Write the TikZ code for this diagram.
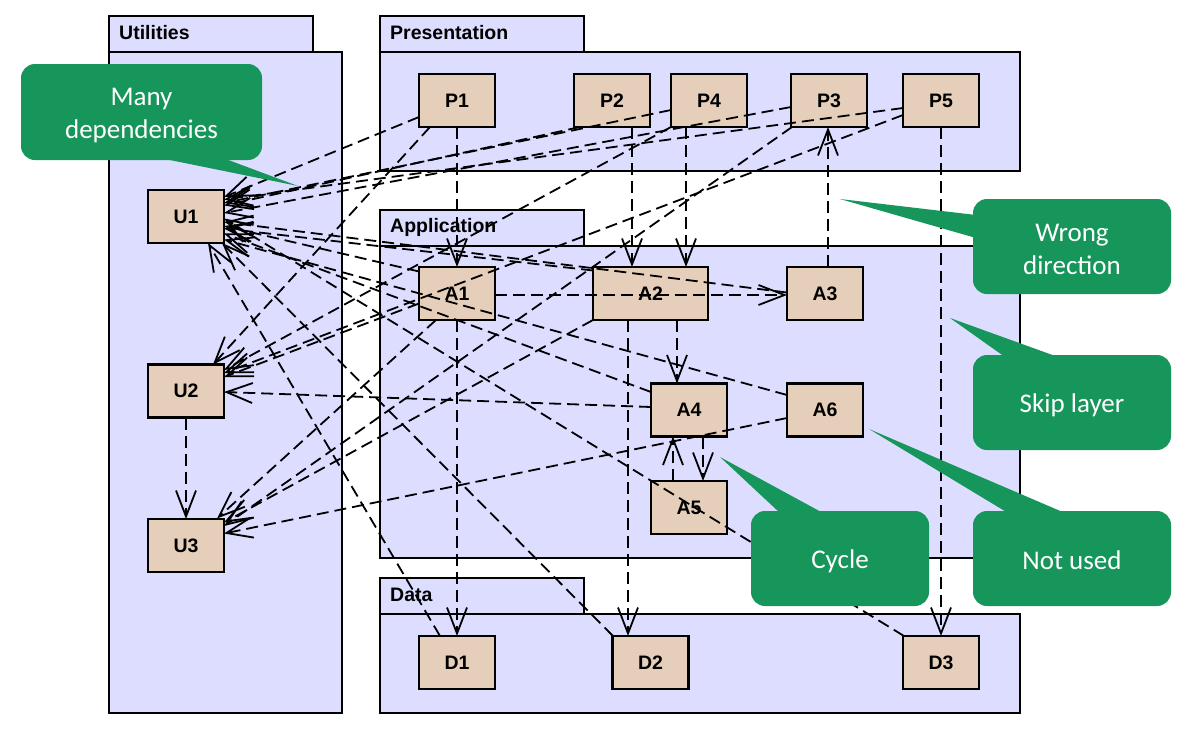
\documentclass[tikz,border=0pt]{standalone}
\usepackage{fontspec}
\setmainfont{Liberation Sans}
\newfontfamily\calloutfont{Carlito}
\usetikzlibrary{arrows.meta,calc}
\definecolor{pkgfill}{HTML}{DDDDFF}
\definecolor{nodefill}{HTML}{E6CFBA}
\definecolor{callgreen}{HTML}{16965A}
\newcommand\depline[4]{\draw[dep] ($(#1)+(#2)$) -- ($(#3)+(#4)$);}
\begin{document}
\begin{tikzpicture}[x=1pt,y=-1pt,
 pkg/.style={draw=black,fill=pkgfill,line width=1.9pt},
 pkglabel/.style={anchor=west,font=\fontsize{19.5}{22}\selectfont\bfseries,inner sep=0pt},
 nd/.style={draw=black,fill=nodefill,line width=2.1pt,minimum width=76pt,minimum height=53pt,inner sep=0pt,font=\fontsize{19.5}{22}\selectfont\bfseries},
 dep/.style={dash pattern=on 12pt off 6pt,line width=1.8pt,-{Straight Barb[length=26pt,width=20pt]}},
 callbox/.style={fill=callgreen,rounded corners=14pt,inner sep=0pt},
 calltext/.style={text=white,inner sep=0pt,align=center,font=\fontsize{27}{33}\selectfont\calloutfont},
 ptr/.style={fill=callgreen}
]
\fill[white] (0,0) rectangle (1204,737);
\useasboundingbox (0,0) rectangle (1204,737);

% packages
\draw[pkg] (109,16) rectangle (313,52);
\draw[pkg] (109,52) rectangle (342,713);
\node[pkglabel] (lUtil) at (119,33) {Utilities};
\draw[pkg] (380,16) rectangle (584,52);
\draw[pkg] (380,52) rectangle (1020,171);
\node[pkglabel] (lPres) at (390,33) {Presentation};
\draw[pkg] (380,210) rectangle (584,246);
\draw[pkg] (380,246) rectangle (1020,558);
\node[pkglabel] (lApp) at (390,227) {Application};
\draw[pkg] (380,578) rectangle (584,614);
\draw[pkg] (380,614) rectangle (1020,713);
\node[pkglabel] (lData) at (390,595) {Data};

% nodes
\node[nd] (P1) at (457,100.5) {P1};
\node[nd] (P2) at (612,100.5) {P2};
\node[nd] (P4) at (709,100.5) {P4};
\node[nd] (P3) at (829,100.5) {P3};
\node[nd] (P5) at (941,100.5) {P5};
\node[nd] (A1) at (457,293.5) {A1};
\node[nd,minimum width=115pt] (A2) at (650.5,293.5) {A2};
\node[nd] (A3) at (825,293.5) {A3};
\node[nd] (A4) at (689,410) {A4};
\node[nd] (A6) at (825,410) {A6};
\node[nd] (A5) at (689,507.5) {A5};
\node[nd] (U1) at (186,216.5) {U1};
\node[nd] (U2) at (186,391) {U2};
\node[nd] (U3) at (186,545.5) {U3};
\node[nd] (D1) at (457,662.5) {D1};
\node[nd] (D2) at (650.5,662.5) {D2};
\node[nd] (D3) at (941,662.5) {D3};

% vertical / layered dependencies
\depline{P1}{0,26.5}{A1}{0,-26.5}
\depline{P2}{20,26.5}{A2}{-18.5,-26.5}
\depline{P4}{-23,26.5}{A2}{35.5,-26.5}
\depline{A3}{3,-26.5}{P3}{-1,26.5}
\depline{P5}{0,26.5}{D3}{0,-26.5}
\depline{A1}{0,26.5}{D1}{0,-26.5}
\depline{A2}{-22.5,26.5}{D2}{-22.5,-26.5}
\depline{A2}{26.5,26.5}{A4}{-12,-26.5}
\depline{A4}{14,26.5}{A5}{14,-26.5}
\depline{A5}{-16,-26.5}{A4}{-16,26.5}
\depline{U2}{0,26.5}{U3}{0,-26.5}
\depline{A1}{38,1.5}{A3}{-38,1.5}
\depline{A4}{-38,-3}{U2}{38,1}

% dependencies on utilities
\depline{P1}{-38,16.5}{U1}{38,-19.5}
\depline{P1}{-27,26.5}{U2}{27,-26.5}
\depline{P2}{-32,26.5}{U1}{38,-11}
\depline{P4}{-38,9.5}{U1}{38,-13.5}
\depline{P4}{-38,26.5}{U2}{38,-21}
\depline{P3}{-38,6.5}{U1}{38,-3.5}
\depline{P3}{-37,26.5}{U3}{38,-19.5}
\depline{P5}{-38,7.5}{U1}{38,-17}
\depline{P5}{-38,14.5}{U2}{38,-18}
\depline{A1}{-38,-22}{U1}{38,9.5}
\depline{A1}{-38,10}{U2}{38,-14}
\depline{A1}{-21,26.5}{U3}{31,-27}
\depline{A2}{-57.5,-23}{U1}{38,12}
\depline{A2}{-57.5,26.5}{U3}{38,-23}
\depline{A3}{-38,-1}{U1}{38,5.5}
\depline{A4}{-38,-18}{U1}{38,17}
\depline{A6}{-38,-15}{U1}{38,23}
\depline{A6}{-38,8}{U3}{38,-12}
\depline{D1}{-17,-26.5}{U1}{22,26.5}
\depline{D2}{-37.5,-26.5}{U1}{36,26.5}
\depline{D3}{-37,-26.5}{U1}{38,2}

% callouts
\node[callbox,minimum width=241pt,minimum height=96pt] (cMany) at (141.5,112) {};
\node[calltext] (tMany) at ($(cMany)+(0,4)$) {Many\\dependencies};
\fill[ptr] (160,158) -- (298,186) -- (223,158) -- cycle;
\node[callbox,minimum width=198pt,minimum height=95pt] (cWrong) at (1072,246.5) {};
\node[calltext] (tWrong) at ($(cWrong)+(0,3)$) {Wrong\\direction};
\fill[ptr] (976,215) -- (840,199) -- (976,238) -- cycle;
\node[callbox,minimum width=198pt,minimum height=95pt] (cSkip) at (1072,402.5) {};
\node[calltext] (tSkip) at ($(cSkip)+(0,3)$) {Skip layer};
\fill[ptr] (1005,357) -- (950,318) -- (1058,357) -- cycle;
\node[callbox,minimum width=198pt,minimum height=95pt] (cNot) at (1072,558.5) {};
\node[calltext] (tNot) at ($(cNot)+(0,2)$) {Not used};
\fill[ptr] (1008,513) -- (869,429) -- (1065,513) -- cycle;
\node[callbox,minimum width=178pt,minimum height=95pt] (cCycle) at (840,558.5) {};
\node[calltext] (tCycle) at ($(cCycle)+(0,3)$) {Cycle};
\fill[ptr] (780,513) -- (720,457) -- (823,513) -- cycle;
\end{tikzpicture}
\end{document}
